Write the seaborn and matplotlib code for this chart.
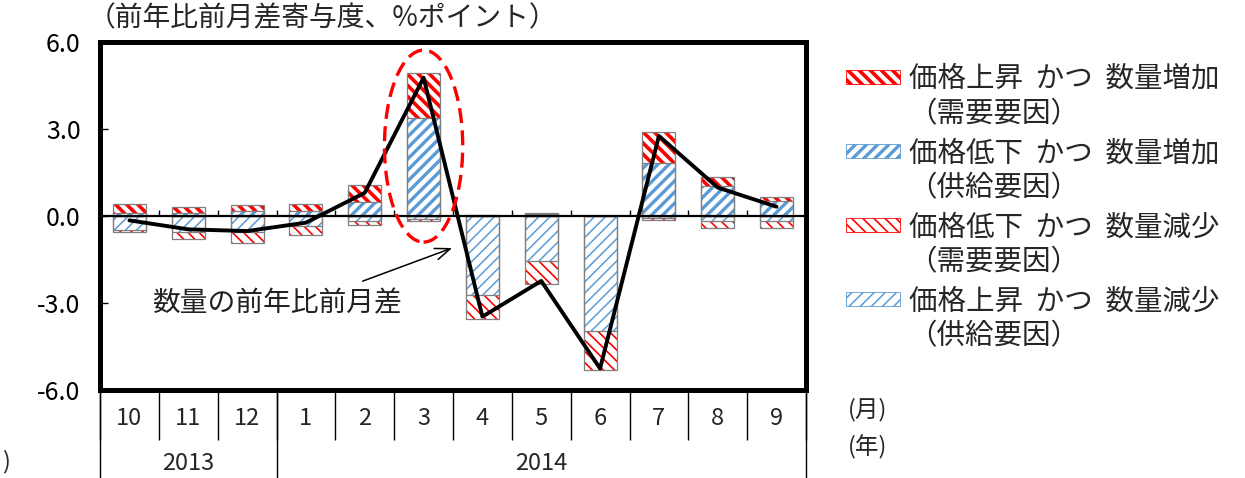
# -*- coding: utf-8 -*-
# contribution of price/quantity factors to the yoy change (month on month)

# %% libraries
import numpy as np
import pandas as pd
import matplotlib
matplotlib.use('Agg')
import matplotlib.pyplot as plt
from matplotlib.patches import Patch, Ellipse
import seaborn as sns

# %% data
months = ['10', '11', '12', '1', '2', '3', '4', '5', '6', '7', '8', '9']
years = ['2013', '2014']
year_span = [(-0.5, 2.5), (2.5, 11.5)]

# 価格上昇 かつ 数量増加（需要要因）
demand_up = [0.31, 0.21, 0.21, 0.23, 0.57, 1.55, 0.02, 0.03, 0.01, 1.06, 0.33, 0.15]
# 価格低下 かつ 数量増加（供給要因）
supply_up = [0.09, 0.11, 0.17, 0.17, 0.49, 3.39, 0.01, 0.06, 0.00, 1.84, 1.03, 0.52]
# 価格低下 かつ 数量減少（需要要因）
demand_down = [-0.07, -0.25, -0.39, -0.32, -0.13, -0.08, -0.80, -0.78, -1.34, -0.07, -0.23, -0.23]
# 価格上昇 かつ 数量減少（供給要因）
supply_down = [-0.48, -0.55, -0.55, -0.34, -0.17, -0.09, -2.74, -1.55, -3.97, -0.08, -0.17, -0.17]
# 数量の前年比前月差
quantity = [-0.15, -0.46, -0.52, -0.23, 0.80, 4.77, -3.47, -2.24, -5.26, 2.76, 0.98, 0.32]

labels = ['価格上昇  かつ  数量増加', '価格低下  かつ  数量増加',
          '価格低下  かつ  数量減少', '価格上昇  かつ  数量減少']
sublabels = ['（需要要因）', '（供給要因）', '（需要要因）', '（供給要因）']

df = pd.DataFrame({'month': months,
                   'demand_up': demand_up, 'supply_up': supply_up,
                   'demand_down': demand_down, 'supply_down': supply_down,
                   'quantity': quantity})
df['pos_total'] = df['demand_up'] + df['supply_up']
df['neg_total'] = df['demand_down'] + df['supply_down']
df['x'] = np.arange(len(months))

# %% style
sns.set_theme(style='white')
plt.rcParams['font.family'] = ['Noto Sans CJK JP', 'DejaVu Sans']

RED = '#FF0000'
BLUE = '#5B9BD5'
styles = [  # color, hatch, hatch linewidth
    (RED, '\\\\\\', 2.6),
    (BLUE, '///', 2.4),
    (RED, '\\\\\\', 1.2),
    (BLUE, '///', 1.1),
]

W, H = 1245, 478
fig = plt.figure(figsize=(12.45, 4.78), dpi=100)
ax = fig.add_axes([100 / W, 88 / H, 706 / W, 348 / H])

BW = 0.56


def layer(col, style):
    """draw one hatched layer of bars, then its grey outline"""
    color, hatch, hlw = style
    n0 = len(ax.patches)
    sns.barplot(data=df, x='month', y=col, order=months, color='white',
                saturation=1, width=BW, ax=ax)
    for p in ax.patches[n0:]:
        p.set_facecolor('white')
        p.set_edgecolor(color)
        p.set_hatch(hatch)
        p.set_linewidth(0)
        p.set_zorder(2)
        if hasattr(p, 'set_hatch_linewidth'):
            p.set_hatch_linewidth(hlw)
    n0 = len(ax.patches)
    sns.barplot(data=df, x='month', y=col, order=months, color='white',
                saturation=1, width=BW, ax=ax)
    for p in ax.patches[n0:]:
        p.set_facecolor('none')
        p.set_edgecolor('#7f7f7f')
        p.set_linewidth(0.9)
        p.set_zorder(2.5)


# positive side: red on top of blue; negative side: light red below light blue
layer('pos_total', styles[0])
layer('supply_up', styles[1])
layer('neg_total', styles[2])
layer('supply_down', styles[3])

# zero line and small marks
ax.axhline(0, color='black', lw=1.6, zorder=3)
ax.vlines(np.arange(-0.5, 12, 1), 0, 0.22, color='black', lw=1, zorder=3)

# quantity line
sns.lineplot(data=df, x='x', y='quantity', color='black', lw=2.8,
             sort=False, ax=ax, zorder=4)

# red dashed ellipse around March
ax.add_patch(Ellipse((5, 2.41), 1.33, 6.62, fill=False, edgecolor=RED,
                     lw=2.4, ls=(0, (4.5, 2.2)), zorder=5))

# annotation
ax.annotate('', xy=(5.53, -1.07), xytext=(3.92, -2.28),
            arrowprops=dict(arrowstyle='->,head_length=0.9,head_width=0.35',
                            color='black', lw=1.1))
ax.text(2.51, -3.0, '数量の前年比前月差', ha='center', va='center',
        fontsize=20, color='#222222')

# axes
ax.set_xlim(-0.5, 11.5)
ax.set_ylim(-6, 6)
ax.set_yticks([-6, -3, 0, 3, 6])
ax.set_yticklabels(['%.1f' % v for v in [-6, -3, 0, 3, 6]], fontsize=18)
ax.tick_params(axis='y', direction='in', length=6, width=1, pad=14,
               left=True, colors='black')
ax.set_xlabel('')
ax.set_ylabel('')
for s in ax.spines.values():
    s.set_linewidth(3.6)
    s.set_color('black')

# category "table" under the axis
ax.xaxis.remove_overlapping_locs = False
ax.set_xticks(np.arange(-0.5, 12, 1))
ax.set_xticks([-0.5, 2.5, 11.5], minor=True)
ax.tick_params(axis='x', which='major', direction='out', length=36, width=1,
               bottom=True, labelbottom=False, color='black')
ax.tick_params(axis='x', which='minor', direction='out', length=64, width=1,
               bottom=True, labelbottom=False, color='black')
tr = ax.get_xaxis_transform()
for i, m in enumerate(months):
    ax.text(i, -0.082, m, transform=tr, ha='center', va='center', fontsize=17)
for (a, b), y in zip(year_span, years):
    ax.text((a + b) / 2, -0.21, y, transform=tr, ha='center', va='center',
            fontsize=17)

fig.text(848 / W, 1 - 410 / H, '(月)', ha='left', va='center', fontsize=17)
fig.text(848 / W, 1 - 447 / H, '(年)', ha='left', va='center', fontsize=17)
fig.text(2 / W, 1 - 462 / H, ')', ha='left', va='center', fontsize=17)

# unit label
fig.text(88 / W, 1 - 18 / H, '（前年比前月差寄与度、%ポイント）',
         ha='left', va='center', fontsize=20)

# legend (first line as label, second line placed underneath)
handles = [Patch(facecolor='white', edgecolor=c, hatch=h, linewidth=0.6)
           for c, h, _ in styles]
leg = fig.legend(handles, labels, loc='upper left',
                 bbox_to_anchor=(846 / W, 1 - 64 / H), frameon=False,
                 fontsize=20.5, handlelength=1.9, handleheight=0.4,
                 handletextpad=0.3, labelspacing=1.55, borderaxespad=0,
                 borderpad=0)
for p, (_, _, hlw) in zip(leg.get_patches(), styles):
    if hasattr(p, 'set_hatch_linewidth'):
        p.set_hatch_linewidth(hlw)

fig.canvas.draw()
for t, sub in zip(leg.get_texts(), sublabels):
    bb = t.get_window_extent()
    fig.text(bb.x0 / W, ((bb.y0 + bb.y1) / 2 - 35) / H, sub,
             ha='left', va='center', fontsize=20.5)

fig.savefig('out.png', dpi=100)
